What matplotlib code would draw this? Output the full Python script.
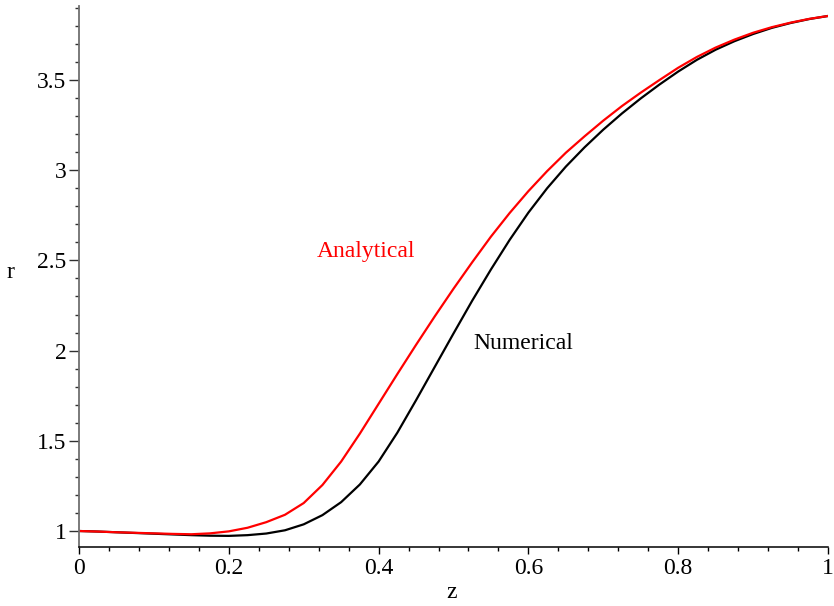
import matplotlib
matplotlib.use("Agg")
import matplotlib.pyplot as plt
from matplotlib.ticker import MultipleLocator, FuncFormatter

# Data
z_analytical = [0.000, 0.025, 0.050, 0.075, 0.100, 0.125, 0.150, 0.175, 0.200, 0.225,
                0.250, 0.275, 0.300, 0.325, 0.350, 0.375, 0.400, 0.425, 0.450, 0.475,
                0.500, 0.525, 0.550, 0.575, 0.600, 0.625, 0.650, 0.675, 0.700, 0.725,
                0.750, 0.775, 0.800, 0.825, 0.850, 0.875, 0.900, 0.925, 0.950, 0.975, 1.000]
r_analytical = [1.000, 0.997, 0.993, 0.990, 0.987, 0.984, 0.982, 0.987, 0.998, 1.018,
                1.049, 1.090, 1.155, 1.255, 1.385, 1.540, 1.705, 1.870, 2.032, 2.190,
                2.343, 2.490, 2.632, 2.763, 2.884, 2.995, 3.097, 3.188, 3.275, 3.356,
                3.430, 3.500, 3.568, 3.628, 3.680, 3.724, 3.762, 3.793, 3.818, 3.839, 3.855]

z_numerical = [0.000, 0.025, 0.050, 0.075, 0.100, 0.125, 0.150, 0.175, 0.200, 0.225,
               0.250, 0.275, 0.300, 0.325, 0.350, 0.375, 0.400, 0.425, 0.450, 0.475,
               0.500, 0.525, 0.550, 0.575, 0.600, 0.625, 0.650, 0.675, 0.700, 0.725,
               0.750, 0.775, 0.800, 0.825, 0.850, 0.875, 0.900, 0.925, 0.950, 0.975, 1.000]
r_numerical = [1.000, 0.997, 0.993, 0.989, 0.985, 0.981, 0.977, 0.974, 0.973, 0.977,
               0.986, 1.004, 1.037, 1.088, 1.160, 1.258, 1.385, 1.545, 1.725, 1.910,
               2.095, 2.277, 2.450, 2.614, 2.765, 2.900, 3.020, 3.127, 3.225, 3.315,
               3.398, 3.475, 3.547, 3.612, 3.668, 3.715, 3.755, 3.789, 3.816, 3.838, 3.855]

x_major = 0.2
y_major = 0.5

plt.rcParams['font.family'] = ['Liberation Serif', 'DejaVu Serif']

fig = plt.figure(figsize=(8.34, 6.06), dpi=100)
ax = fig.add_axes([79/834, 1 - 546.7/606, (828 - 79)/834, (546.7 - 5.7)/606])

ax.plot(z_numerical, r_numerical, color='black', lw=1.6, solid_joinstyle='round')
ax.plot(z_analytical, r_analytical, color='#ff0000', lw=1.6, solid_joinstyle='round')

ax.set_xlim(0, 1)
ax.set_ylim(0.913, 3.912)

for s in ['top', 'right']:
    ax.spines[s].set_visible(False)
ax.spines['left'].set_color('#707070')
ax.spines['left'].set_linewidth(1.3)
ax.spines['bottom'].set_color('black')
ax.spines['bottom'].set_linewidth(1.1)

ax.xaxis.set_major_locator(MultipleLocator(x_major))
ax.xaxis.set_minor_locator(MultipleLocator(0.04))
ax.yaxis.set_major_locator(MultipleLocator(y_major))
ax.yaxis.set_minor_locator(MultipleLocator(0.1))

def fmt(v, pos):
    s = ('%.1f' % v)
    if s.endswith('.0'):
        s = s[:-2]
    return s

ax.xaxis.set_major_formatter(FuncFormatter(fmt))
ax.yaxis.set_major_formatter(FuncFormatter(fmt))

ax.tick_params(axis='x', which='major', length=5, width=1, color='black', labelsize=17, pad=3)
ax.tick_params(axis='x', which='minor', length=3, width=1, color='black')
ax.tick_params(axis='y', which='major', length=7, width=1, color='#303030', labelsize=17, pad=2)
ax.tick_params(axis='y', which='minor', length=3, width=1, color='#303030')

ax.text(0.383, 2.547, 'Analytical', color='#ff0000', fontsize=17, ha='center', va='center')
ax.text(0.593, 2.042, 'Numerical', color='black', fontsize=17, ha='center', va='center')

fig.text(10/834, 1 - 272/606, 'r', fontsize=17, ha='center', va='center')
fig.text(452/834, 1 - 593/606, 'z', fontsize=17, ha='center', va='center')

fig.savefig('out.png', dpi=100)
